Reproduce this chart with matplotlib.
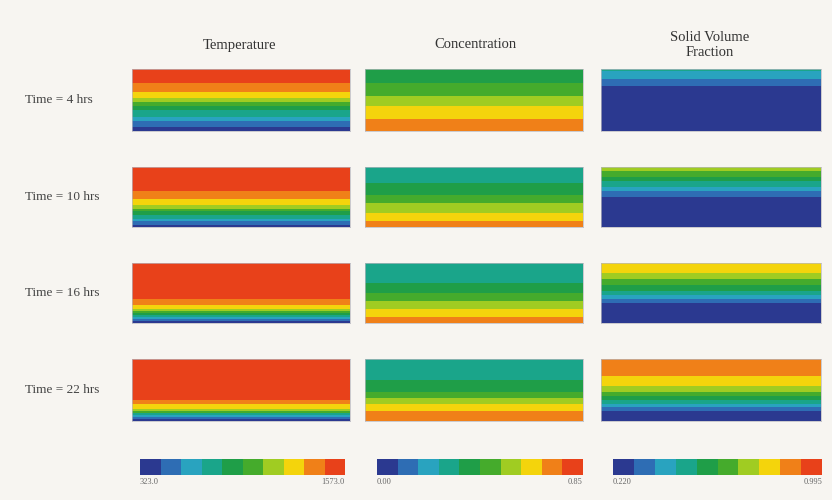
import numpy as np
import matplotlib
matplotlib.use("Agg")
import matplotlib.pyplot as plt
from matplotlib.colors import ListedColormap, BoundaryNorm
from matplotlib.cm import ScalarMappable

# ---------------- data ----------------
columns = ["Temperature", "Concentration", "Solid Volume\nFraction"]
times = ["Time = 4 hrs", "Time = 10 hrs", "Time = 16 hrs", "Time = 22 hrs"]

# colour level (0..9) of each depth row, top to bottom (30 rows per panel)
temp_4 = [9]*7 + [8]*4 + [7]*3 + [6]*2 + [5]*2 + [4]*2 + [3]*3 + [2]*2 + [1]*3 + [0]*2
temp_10 = [9]*12 + [8]*4 + [7]*3 + [6]*2 + [5]*1 + [4]*2 + [3]*2 + [2]*1 + [1]*2 + [0]*1
temp_16 = [9]*18 + [8]*3 + [7]*2 + [6]*1 + [5]*1 + [4]*1 + [3]*1 + [2]*1 + [1]*1 + [0]*1
temp_22 = [9]*20 + [8]*2 + [7]*2 + [6]*1 + [5]*1 + [3]*1 + [2]*1 + [1]*1 + [0]*1

conc_4 = [4]*7 + [5]*6 + [6]*5 + [7]*6 + [8]*6
conc_10 = [3]*8 + [4]*6 + [5]*4 + [6]*5 + [7]*4 + [8]*3
conc_16 = [3]*10 + [4]*5 + [5]*4 + [6]*4 + [7]*4 + [8]*3
conc_22 = [3]*10 + [4]*6 + [5]*3 + [6]*3 + [7]*3 + [8]*5

svf_4 = [3]*1 + [2]*4 + [1]*3 + [0]*22
svf_10 = [6]*2 + [5]*3 + [4]*2 + [3]*3 + [2]*2 + [1]*3 + [0]*15
svf_16 = [7]*5 + [6]*3 + [5]*3 + [4]*3 + [3]*2 + [2]*2 + [1]*2 + [0]*10
svf_22 = [8]*8 + [7]*5 + [6]*3 + [5]*2 + [4]*2 + [3]*2 + [2]*1 + [1]*2 + [0]*5

profiles = [
    [temp_4, conc_4, svf_4],
    [temp_10, conc_10, svf_10],
    [temp_16, conc_16, svf_16],
    [temp_22, conc_22, svf_22],
]

cbar_min = [323.0, 0.00, 0.220]
cbar_max = [1573.0, 0.85, 0.995]
cbar_fmt = ["{:.1f}", "{:.2f}", "{:.3f}"]

level_colors = ["#2b3990", "#2e6db4", "#29a3bf", "#1aa58a", "#1f9e48",
                "#45ab2c", "#a0cc22", "#f4d40c", "#f08018", "#e8411a"]

# ---------------- layout ----------------
W, H = 832, 500
fig = plt.figure(figsize=(W / 100, H / 100), dpi=100, facecolor="#f7f5f1")
serif = ["Liberation Serif", "DejaVu Serif"]

def box(x0, x1, y0, y1):
    return [x0 / W, 1 - y1 / H, (x1 - x0) / W, (y1 - y0) / H]

col_x = [(132, 350), (365, 583), (601, 821)]
row_y = [(69, 131), (167, 227), (263, 323), (359, 421)]
cbar_x = [(140, 345), (377, 583), (613, 822)]
cbar_y = (459, 475)

cmap = ListedColormap(level_colors)
lnorm = BoundaryNorm(np.arange(11), 10)

for r, row in enumerate(profiles):
    for c, prof in enumerate(row):
        ax = fig.add_axes(box(*col_x[c], *row_y[r]))
        ax.imshow(np.array(prof)[:, None], cmap=cmap, norm=lnorm,
                  aspect="auto", interpolation="nearest")
        ax.set_xticks([])
        ax.set_yticks([])
        for s in ax.spines.values():
            s.set_color("#b8b8c0")
            s.set_linewidth(0.5)

# column titles
title_x = [240, 475, 710]
for c, t in enumerate(columns):
    fig.text(title_x[c] / W, 1 - 45 / H, t, ha="center", va="center",
             fontsize=10.5, family=serif, color="#333333", linespacing=1.15)

# row labels
for r, t in enumerate(times):
    yc = (row_y[r][0] + row_y[r][1]) / 2
    fig.text(25 / W, 1 - yc / H, t, ha="left", va="center",
             fontsize=9.5, family=serif, color="#444444")

# colour bars
for c in range(3):
    cax = fig.add_axes(box(*cbar_x[c], *cbar_y))
    bnorm = BoundaryNorm(np.linspace(cbar_min[c], cbar_max[c], 11), 10)
    sm = ScalarMappable(norm=bnorm, cmap=cmap)
    cb = fig.colorbar(sm, cax=cax, orientation="horizontal",
                      ticks=[cbar_min[c], cbar_max[c]])
    cb.outline.set_visible(False)
    cb.minorticks_off()
    cax.set_xticklabels([cbar_fmt[c].format(cbar_min[c]),
                         cbar_fmt[c].format(cbar_max[c])],
                        fontsize=6, color="#666666", family=serif)
    cax.tick_params(which="both", length=0, pad=2)
    labs = cax.get_xticklabels()
    labs[0].set_ha("left")
    labs[1].set_ha("right")

fig.savefig("out.png", dpi=100, facecolor=fig.get_facecolor())
